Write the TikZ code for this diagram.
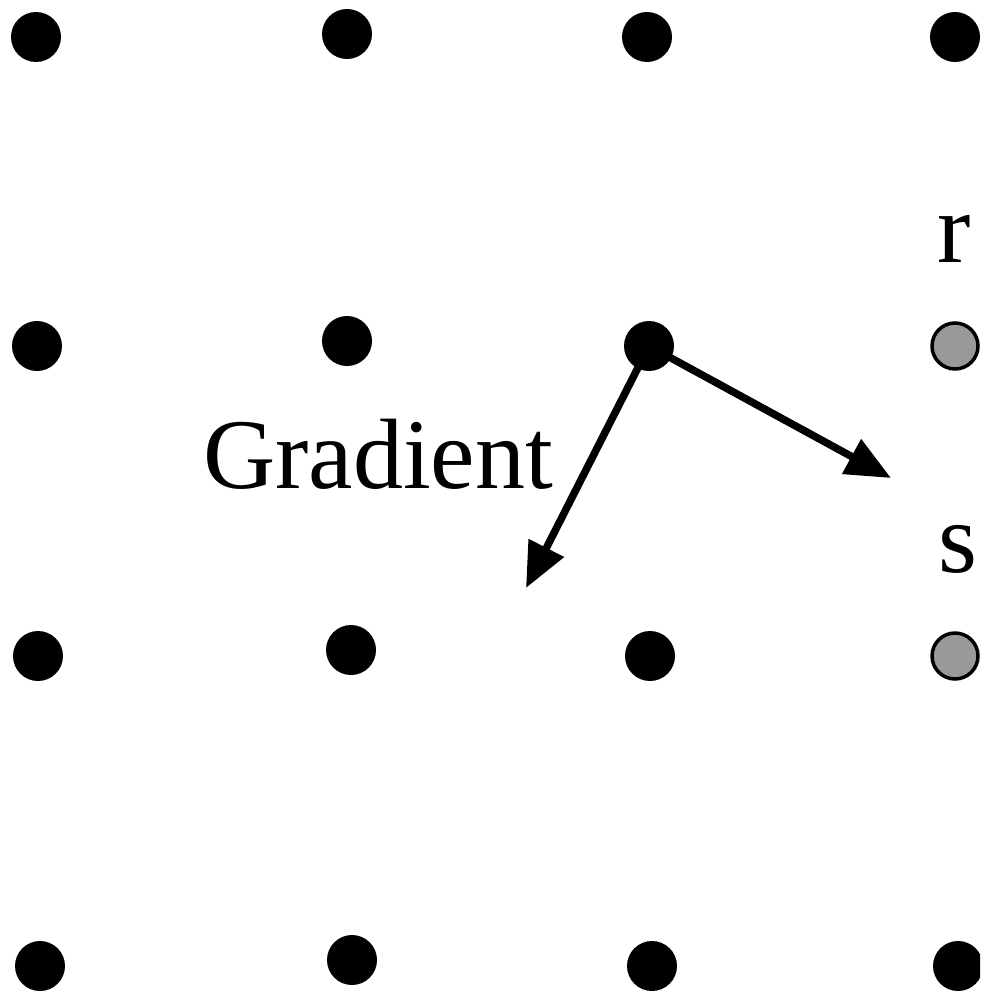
\documentclass[tikz,border=0pt]{standalone}
\usepackage{fontspec}
\setmainfont{Liberation Serif}
\usetikzlibrary{arrows.meta}
\begin{document}
\begin{tikzpicture}[x=1pt,y=-1pt,
  dot/.style={circle,fill=black,inner sep=0pt,minimum size=50pt},
  graydot/.style={circle,fill=black!40,draw=black,line width=3.5pt,inner sep=0pt,minimum size=46pt},
  label/.style={anchor=base west,inner sep=0pt,font=\fontsize{100}{120}\selectfont},
  vec/.style={line width=7.5pt,-{Triangle[length=45pt,width=38pt]}}]
\useasboundingbox (0,0) rectangle (980,996);
\clip (0,0) rectangle (980,996);
% lattice of sample points
\node[dot] (a1) at (36,37) {};
\node[dot] (a2) at (347,34) {};
\node[dot] (a3) at (647,37) {};
\node[dot] (a4) at (955,37) {};
\node[dot] (b1) at (37,346) {};
\node[dot] (b2) at (347,341) {};
\node[dot] (b3) at (649,346) {};
\node[graydot] (b4) at (955,346) {};
\node[dot] (c1) at (38,656) {};
\node[dot] (c2) at (351,650) {};
\node[dot] (c3) at (650,656) {};
\node[graydot] (c4) at (955,656) {};
\node[dot] (d1) at (40,966) {};
\node[dot] (d2) at (352,960) {};
\node[dot] (d3) at (652,966) {};
\node[dot] (d4) at (958,966) {};
% labels
\node[label] (grad) at (203,488) {Gradient};
\node[label] (r) at (937,262) {r};
\node[label] (s) at (938,572) {s};
% vectors from the centre point
\coordinate (tipg) at (526,588);
\coordinate (tipn) at (891,478);
\draw[vec] (b3.center) -- (tipg);
\draw[vec] (b3.center) -- (tipn);
\end{tikzpicture}
\end{document}
